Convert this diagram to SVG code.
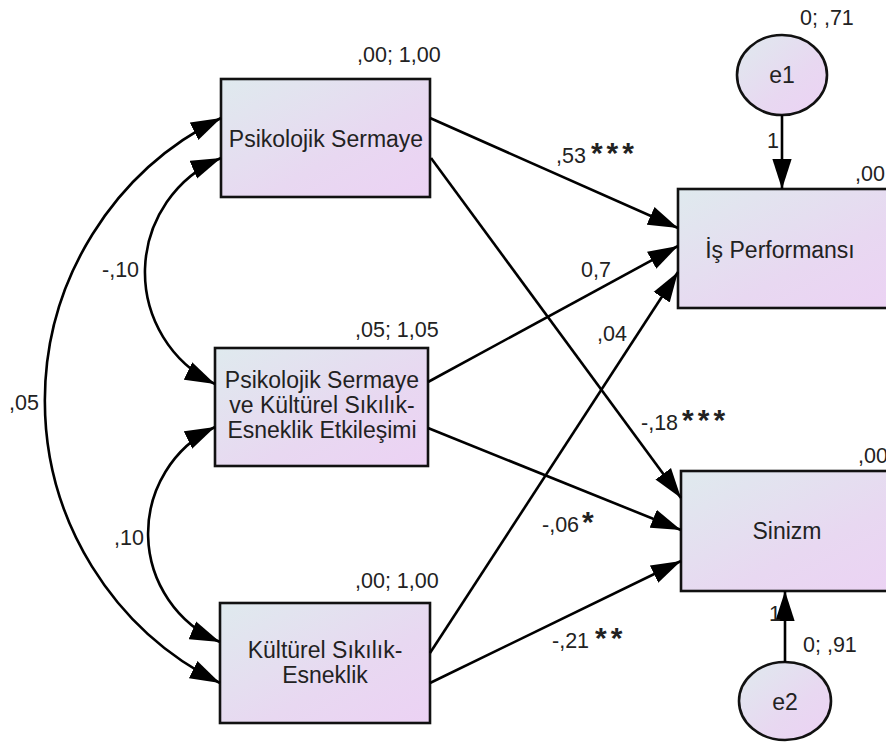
<svg xmlns="http://www.w3.org/2000/svg" width="886" height="742" viewBox="0 0 886 742">
<style>
  .box{stroke:#111;stroke-width:2.6;fill:url(#g)}
  .lbl{font-family:"Liberation Sans",Arial,sans-serif;font-size:23px;fill:#222;text-anchor:middle}
  .num{font-family:"Liberation Sans",Arial,sans-serif;font-size:21.5px;fill:#222}
  .star{font-size:30px;font-weight:bold;letter-spacing:4px}
  .c{fill:none;stroke:#000;stroke-width:2.6}
</style>
<defs>
  <linearGradient id="g" x1="0" y1="0" x2="1" y2="1">
    <stop offset="0" stop-color="#dfeaee"/>
    <stop offset="0.6" stop-color="#e8d8f1"/>
    <stop offset="1" stop-color="#ecd2f4"/>
  </linearGradient>
  <marker id="a" markerUnits="userSpaceOnUse" markerWidth="30" markerHeight="20" viewBox="0 0 28 18" refX="28" refY="9" orient="auto-start-reverse">
    <path d="M0,0 L28,9 L0,18 z" fill="#000"/>
  </marker>
</defs>

<g id="n-ps">
  <rect class="box" x="221" y="79" width="209" height="118"/>
  <text class="lbl" x="326" y="147">Psikolojik Sermaye</text>
  <text class="num" x="357" y="62">,00; 1,00</text>
</g>
<g id="n-int">
  <rect class="box" x="215" y="348" width="213" height="118"/>
  <text class="lbl" x="322" y="388">Psikolojik Sermaye</text>
  <text class="lbl" x="322" y="413">ve Kültürel Sıkılık-</text>
  <text class="lbl" x="322" y="438">Esneklik Etkileşimi</text>
  <text class="num" x="355" y="337">,05; 1,05</text>
</g>
<g id="n-kse">
  <rect class="box" x="220" y="603" width="210" height="120"/>
  <text class="lbl" x="325" y="658">Kültürel Sıkılık-</text>
  <text class="lbl" x="325" y="683">Esneklik</text>
  <text class="num" x="355" y="588">,00; 1,00</text>
</g>
<g id="n-isp">
  <rect class="box" x="678" y="189" width="230" height="119"/>
  <text class="lbl" x="780" y="258">İş Performansı</text>
  <text class="num" x="855" y="181">,00</text>
</g>
<g id="n-sin">
  <rect class="box" x="681" y="471" width="230" height="120"/>
  <text class="lbl" x="787" y="539">Sinizm</text>
  <text class="num" x="858" y="463">,00</text>
</g>
<g id="n-e1">
  <ellipse class="box" cx="782" cy="75" rx="45" ry="40"/>
  <text class="lbl" x="782" y="83">e1</text>
  <text class="num" x="800" y="25">0; ,71</text>
</g>
<g id="n-e2">
  <ellipse class="box" cx="785" cy="701" rx="46" ry="39"/>
  <text class="lbl" x="785" y="710">e2</text>
  <text class="num" x="803" y="652">0; ,91</text>
</g>

<g id="connectors">
  <path class="c" d="M782,115 L782,189" marker-end="url(#a)"/>
  <path class="c" d="M785,662 L785,591" marker-end="url(#a)"/>
  <path class="c" d="M430,118 L678,228" marker-end="url(#a)"/>
  <path class="c" d="M431,158 L681,498" marker-end="url(#a)"/>
  <path class="c" d="M428,382 L678,246" marker-end="url(#a)"/>
  <path class="c" d="M428,428 L681,530" marker-end="url(#a)"/>
  <path class="c" d="M430,653 L678,272" marker-end="url(#a)"/>
  <path class="c" d="M430,683 L681,561" marker-end="url(#a)"/>
  <path class="c" d="M221,118 A315,315 0 0 0 220,683" marker-start="url(#a)" marker-end="url(#a)"/>
  <path class="c" d="M221,158 A124,124 0 0 0 215,384" marker-start="url(#a)" marker-end="url(#a)"/>
  <path class="c" d="M215,427 A118,118 0 0 0 220,642" marker-start="url(#a)" marker-end="url(#a)"/>

  <text class="num" x="767" y="148">1</text>
  <text class="num" x="769" y="621">1</text>
  <text class="num" x="556" y="163">,53<tspan class="star" dx="5">***</tspan></text>
  <text class="num" x="581" y="277">0,7</text>
  <text class="num" x="597" y="341">,04</text>
  <text class="num" x="641" y="430">-,18<tspan class="star" dx="4">***</tspan></text>
  <text class="num" x="542" y="532">-,06<tspan class="star" dx="3">*</tspan></text>
  <text class="num" x="552" y="648">-,21<tspan class="star" dx="6">**</tspan></text>
  <text class="num" x="102" y="277">-,10</text>
  <text class="num" x="9" y="410">,05</text>
  <text class="num" x="114" y="545">,10</text>
</g>
</svg>
